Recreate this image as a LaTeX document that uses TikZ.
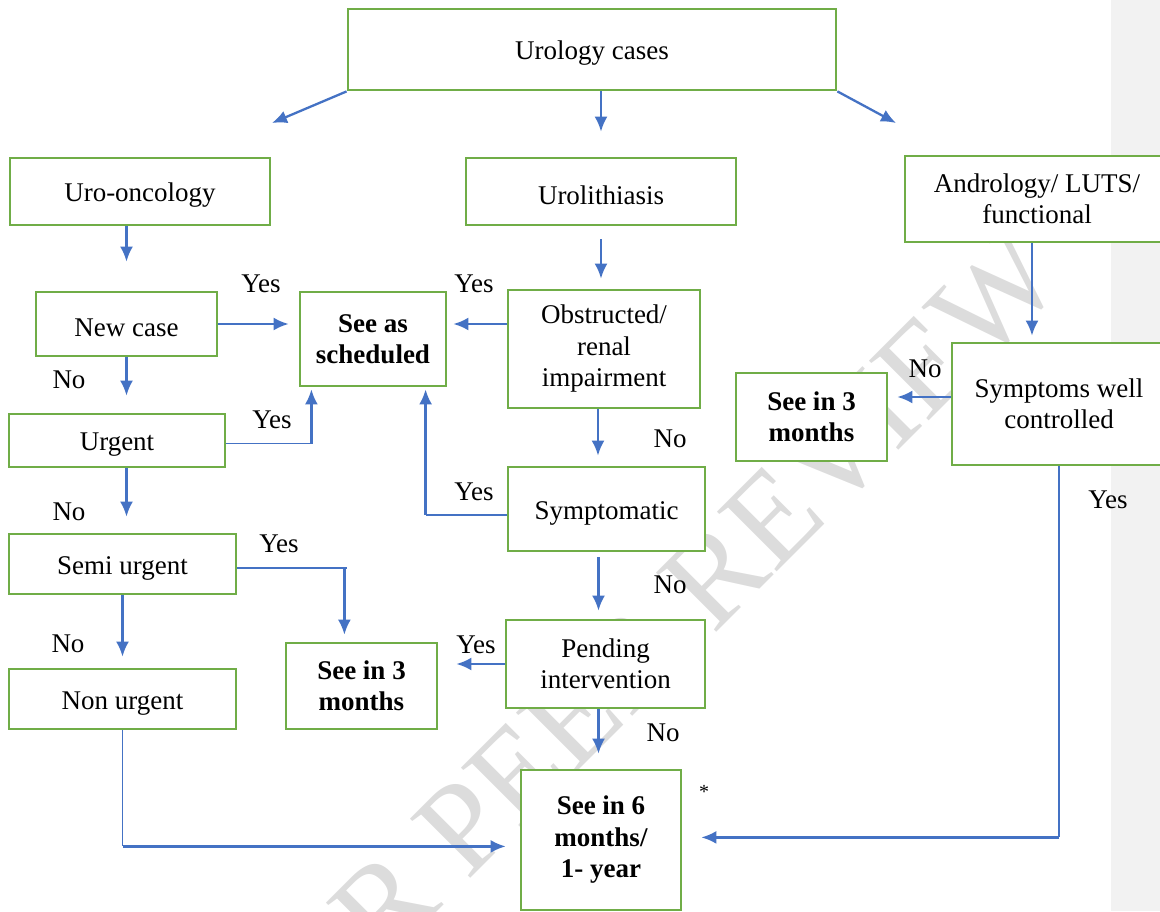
\documentclass[tikz,border=0pt]{standalone}
\usepackage{fontspec}
\setmainfont{Liberation Serif}
\usetikzlibrary{arrows.meta}
\definecolor{boxgreen}{HTML}{70AD47}
\definecolor{lineblue}{HTML}{4472C4}
\definecolor{margingray}{HTML}{F2F2F2}
\definecolor{markgray}{HTML}{DCDCDC}

\begin{document}
\begin{tikzpicture}
	[
	x=1pt, y=-1pt, font=\fontsize{27}{31.5}\selectfont, >={Latex[length=15pt,width=13pt]},
	%Kaesten, Pfeile, Linien
	box/.style={draw=boxgreen, line width=2.8pt, fill=white, align=center, inner sep=0pt, font=\fontsize{27}{31.5}\selectfont, execute at begin node={\rule{0pt}{26pt}}},
	boldbox/.style={box, font=\fontsize{27}{31.5}\selectfont\bfseries},
	arr/.style={->, draw=lineblue, line width=2.3pt},
	lnk/.style={draw=lineblue, line width=1.3pt},
	lbl/.style={inner sep=0pt}
	]
	
	%Rahmen
	\useasboundingbox (0,0) rectangle (1160,911);
	\clip (0,0) rectangle (1160,911);
	
	%Rand rechts
	\fill[margingray] (1111,0) rectangle (1160,911);
	
	%Wasserzeichen
	\node[text=markgray, rotate=45, font=\fontsize{129}{129}\selectfont] (mark) at (638,652) {FOR PEER REVIEW};
	
	%obere Ebene
	\node[box, minimum width=488pt, minimum height=81pt] (uro) at (592,49.5) {Urology cases};
	\node[box, minimum width=260pt, minimum height=67pt] (onc) at (140,191.5) {Uro-oncology};
	\node[box, minimum width=270pt, minimum height=67pt] (lith) at (601,191.5) {Urolithiasis};
	\node[box, minimum width=264pt, minimum height=86pt] (andr) at (1037,199) {Andrology/ LUTS/\\functional};
	
	%linke Spalte
	\node[box, minimum width=181pt, minimum height=64pt] (newc) at (126.5,324) {New case};
	\node[box, minimum width=216pt, minimum height=53pt] (urg) at (117,440.5) {Urgent};
	\node[box, minimum width=227pt, minimum height=60pt] (semi) at (122.5,564) {Semi urgent};
	\node[box, minimum width=227pt, minimum height=60pt] (nonu) at (122.5,699) {Non urgent};
	
	%Ergebnisse
	\node[boldbox, minimum width=146pt, minimum height=94pt] (sched) at (373,339) {See as\\scheduled};
	\node[boldbox, minimum width=151pt, minimum height=86pt] (threeA) at (361.5,686) {See in 3\\months};
	\node[boldbox, minimum width=151pt, minimum height=88pt] (threeB) at (811.5,417) {See in 3\\months};
	\node[boldbox, minimum width=160pt, minimum height=140pt] (six) at (601,840) {See in 6\\months/\\1- year};
	
	%mittlere Spalte
	\node[box, minimum width=192pt, minimum height=118pt] (obs) at (604,349) {Obstructed/\\renal\\impairment};
	\node[box, minimum width=197pt, minimum height=84pt] (symp) at (606.5,509) {Symptomatic};
	\node[box, minimum width=199pt, minimum height=88pt] (pend) at (605.5,664) {Pending\\intervention};
	
	%rechte Spalte
	\node[box, minimum width=214pt, minimum height=122pt] (ctrl) at (1059,404) {Symptoms well\\controlled};
	
	%Pfeile von oben
	\coordinate (tipL) at (272,123);
	\coordinate (tipR) at (896,123);
	\draw[arr] (uro.south west) -- (tipL);
	\draw[arr] (uro.south east) -- (tipR);
	\draw[arr, shorten >=25pt] (uro.south -| lith.north) -- (lith.north);
	\draw[arr, shorten >=29pt] (onc.south -| newc.north) -- (newc.north);
	\draw[arr, shorten <=13pt, shorten >=10pt] (lith.south) -- (lith.south |- obs.north);
	\draw[arr, shorten >=6pt] ([xshift=-5pt]andr.south) -- ([xshift=-5pt]andr.south |- ctrl.north);
	
	%Uro-oncology
	\draw[arr, shorten >=10pt] (newc.east) -- (newc.east -| sched.west);
	\draw[arr, shorten >=17pt] (newc.south) -- (newc.south |- urg.north);
	\draw[lnk] (urg.east) ++(0,3) -- ++(85,0) coordinate (k1);
	\draw[arr, shorten >=2pt] (k1) -- (k1 |- sched.south);
	\draw[arr, shorten >=16pt] (urg.south -| newc.south) -- (newc.south |- semi.north);
	\draw[lnk] (semi.east) ++(0,4) -- ++(107,0) coordinate (k3) -- ++(3,0);
	\draw[arr, shorten >=7pt] (k3) -- (k3 |- threeA.north);
	\draw[arr, shorten >=11pt] (semi.south) -- (semi.south |- nonu.north);
	\draw[lnk] (nonu.south) -- ++(0,116) coordinate (k4);
	\draw[arr, shorten >=14pt] (k4) -- (k4 -| six.west);
	
	%Urolithiasis
	\draw[arr, shorten >=6pt] (obs.west |- newc.east) -- (sched.east |- newc.east);
	\draw[arr, shorten >=10pt] ([xshift=-6pt]obs.south) -- ([xshift=-6pt]obs.south |- symp.north);
	\draw[lnk] (symp.west) ++(0,6) -- ++(-81,0) coordinate (k2);
	\draw[arr, shorten >=2pt] (k2) -- (k2 |- sched.south);
	\draw[arr, shorten <=5pt, shorten >=8pt] ([xshift=-8pt]symp.south) -- ([xshift=-8pt]symp.south |- pend.north);
	\draw[arr, shorten >=18pt] (pend.west) -- (pend.west -| threeA.east);
	\draw[arr, shorten >=15pt] ([xshift=-7pt]pend.south) -- ([xshift=-7pt]pend.south |- six.north);
	
	%Andrology
	\draw[arr, shorten >=9pt] ([yshift=7pt]ctrl.west) -- ([yshift=7pt]ctrl.west -| threeB.east);
	\draw[lnk] (ctrl.south) -- ++(0,371) coordinate (k5);
	\draw[arr, shorten >=19pt] (k5) -- (k5 -| six.east);
	
	%Beschriftung
	\node[lbl] (yes1) at (261,284) {Yes};
	\node[lbl] (yes2) at (474,284) {Yes};
	\node[lbl] (no1) at (69,380) {No};
	\node[lbl] (yes3) at (272,420) {Yes};
	\node[lbl] (no2) at (670,439) {No};
	\node[lbl] (yes4) at (474,492) {Yes};
	\node[lbl] (no3) at (69,512) {No};
	\node[lbl] (yes5) at (279,544) {Yes};
	\node[lbl] (no4) at (670,585) {No};
	\node[lbl] (yes6) at (476,645) {Yes};
	\node[lbl] (no5) at (68,644) {No};
	\node[lbl] (no6) at (663,733) {No};
	\node[lbl, font=\fontsize{20}{24}\selectfont] (star) at (704,792) {*};
	\node[lbl] (no7) at (925,369) {No};
	\node[lbl] (yes7) at (1108,500) {Yes};
\end{tikzpicture}
\end{document}
